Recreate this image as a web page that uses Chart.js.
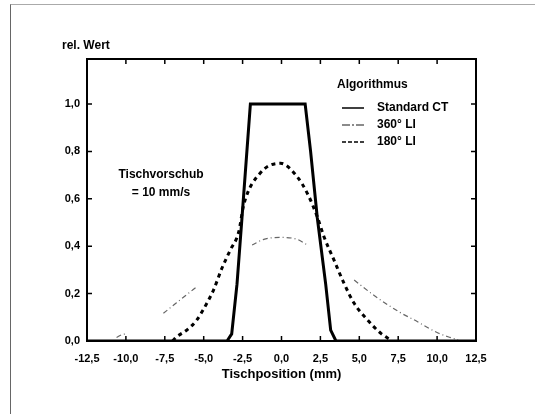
<!DOCTYPE html>
<html>
<head>
<meta charset="utf-8">
<script src="https://cdn.jsdelivr.net/npm/chart.js"></script>
<style>
  html, body { margin: 0; padding: 0; background: #fff; }
  #wrap { position: relative; width: 535px; height: 414px; }
  #frame {
    position: absolute; left: 10px; top: 4px; width: 525px; height: 410px;
    border-left: 1px solid #666; border-top: 1px solid #aaa;
    pointer-events: none;
  }
  canvas { position: absolute; left: 0; top: 0; }
</style>
</head>
<body>
<div id="wrap">
  <canvas id="chart" width="535" height="414"></canvas>
  <div id="frame"></div>
</div>
<script>
// Tick labels / text
const xTicks = [-12.5, -10, -7.5, -5, -2.5, 0, 2.5, 5, 7.5, 10, 12.5];
const yTicks = [0, 0.2, 0.4, 0.6, 0.8, 1.0];
const seriesNames = ['Standard CT', '360° LI', '180° LI'];

// Standard CT (solid)
const stdX = [-12.5, -3.5, -3.2, -2.86, -2.54, -2.0, 1.52, 1.87, 2.3, 2.84, 3.16, 3.5, 12.5];
const stdY = [0, 0, 0.03, 0.24, 0.52, 1.0, 1.0, 0.8, 0.52, 0.24, 0.046, 0, 0];

// 360° LI (thin, partly faded in the scan -> gaps)
const li360X = [-10.6, -10.2, -9.9, -9.0, -7.59, -7.0, -6.2, -5.44, -3.5, -1.89, -1.14, -0.06, 1.01, 1.66, 3.0, 4.67, 6.0, 7.68, 8.5, 9.3, 10.06, 10.7, 11.35];
const li360Y = [0.015, 0.028, 0.03, null, 0.117, 0.148, 0.19, 0.229, null, 0.405, 0.429, 0.437, 0.429, 0.405, null, 0.257, 0.19, 0.118, 0.09, 0.06, 0.034, 0.018, 0.005];

// 180° LI (heavy dashed)
const li180X = [-7.0, -6.73, -6.09, -5.44, -4.8, -4.37, -3.83, -3.29, -2.75, -2.43, -1.35, -0.06, 1.01, 1.66, 2.3, 2.73, 3.37, 4.02, 4.67, 5.53, 6.39, 7.03];
const li180Y = [0, 0.018, 0.046, 0.089, 0.159, 0.215, 0.307, 0.384, 0.46, 0.574, 0.71, 0.75, 0.693, 0.623, 0.524, 0.44, 0.342, 0.243, 0.159, 0.089, 0.032, 0.004];

const FONT = '"Liberation Sans", Arial, sans-serif';

function toPoints(xs, ys) {
  return xs.map((x, i) => ({ x: x, y: ys[i] }));
}

function fmt(v) {
  return v.toFixed(1).replace('.', ',');
}

// box, inward ticks, legend and notes
const decorPlugin = {
  id: 'decor',
  afterDraw(chart) {
    const ctx = chart.ctx;
    const a = chart.chartArea;
    const xs = chart.scales.x;
    const ys = chart.scales.y;
    ctx.save();
    ctx.strokeStyle = '#000';
    ctx.lineWidth = 2;
    ctx.strokeRect(a.left, a.top, a.right - a.left, a.bottom - a.top);

    ctx.lineWidth = 1.5;
    ctx.beginPath();
    xTicks.forEach(v => {
      if (v <= -12.5 || v >= 12.5) return;
      const px = xs.getPixelForValue(v);
      ctx.moveTo(px, a.bottom); ctx.lineTo(px, a.bottom - 5);
      ctx.moveTo(px, a.top); ctx.lineTo(px, a.top + 5);
    });
    yTicks.forEach(v => {
      if (v <= 0) return;
      const py = ys.getPixelForValue(v);
      ctx.moveTo(a.left, py); ctx.lineTo(a.left + 5, py);
      ctx.moveTo(a.right, py); ctx.lineTo(a.right - 5, py);
    });
    ctx.stroke();

    // axis label top-left
    ctx.fillStyle = '#000';
    ctx.font = 'bold 12px ' + FONT;
    ctx.textBaseline = 'middle';
    ctx.textAlign = 'left';
    ctx.fillText('rel. Wert', 62, 46);

    // note
    ctx.textAlign = 'center';
    ctx.fillText('Tischvorschub', 161, 175);
    ctx.fillText('= 10 mm/s', 161, 193);

    // legend
    ctx.textAlign = 'left';
    ctx.fillText('Algorithmus', 337, 85);
    const rows = [108, 125, 142];
    chart.data.datasets.forEach((ds, i) => {
      const y = rows[i];
      ctx.beginPath();
      ctx.strokeStyle = ds.borderColor;
      ctx.lineWidth = 1.5;
      ctx.setLineDash(ds.legendDash);
      ctx.moveTo(342, y);
      ctx.lineTo(364, y);
      ctx.stroke();
      ctx.setLineDash([]);
      ctx.fillStyle = '#000';
      ctx.fillText(ds.label, 377, y);
    });
    ctx.restore();
  }
};

new Chart(document.getElementById('chart'), {
  type: 'line',
  data: {
    datasets: [
      {
        label: seriesNames[0],
        data: toPoints(stdX, stdY),
        borderColor: '#000',
        borderWidth: 3,
        pointRadius: 0,
        tension: 0,
        legendDash: []
      },
      {
        label: seriesNames[1],
        data: toPoints(li360X, li360Y),
        borderColor: '#666',
        borderWidth: 1.2,
        borderDash: [5, 3, 1, 3],
        pointRadius: 0,
        cubicInterpolationMode: 'monotone',
        spanGaps: false,
        legendDash: [8, 2, 2, 2]
      },
      {
        label: seriesNames[2],
        data: toPoints(li180X, li180Y),
        borderColor: '#000',
        borderWidth: 3,
        borderDash: [4, 4],
        pointRadius: 0,
        cubicInterpolationMode: 'monotone',
        legendDash: [4, 2]
      }
    ]
  },
  options: {
    responsive: false,
    animation: false,
    layout: { padding: { left: 57, right: 59, top: 59, bottom: 23 } },
    plugins: {
      legend: { display: false },
      tooltip: { enabled: false }
    },
    scales: {
      x: {
        type: 'linear',
        min: -12.5,
        max: 12.5,
        afterFit: (s) => { s.height = 50; },
        afterBuildTicks: (s) => { s.ticks = xTicks.map(v => ({ value: v })); },
        grid: { display: false, drawTicks: false },
        border: { display: false },
        ticks: {
          padding: 11,
          color: '#000',
          font: { family: FONT, size: 11, weight: 'bold' },
          maxRotation: 0,
          autoSkip: false,
          callback: (v) => fmt(v)
        },
        title: {
          display: true,
          text: 'Tischposition (mm)',
          color: '#000',
          font: { family: FONT, size: 13, weight: 'bold' },
          padding: { top: 0, bottom: 9 }
        }
      },
      y: {
        type: 'linear',
        min: 0,
        max: 1.19,
        afterFit: (s) => { s.width = 30; },
        afterBuildTicks: (s) => { s.ticks = yTicks.map(v => ({ value: v })); },
        grid: { display: false, drawTicks: false },
        border: { display: false },
        ticks: {
          padding: 7,
          color: '#000',
          font: { family: FONT, size: 11, weight: 'bold' },
          callback: (v) => fmt(v)
        }
      }
    }
  },
  plugins: [decorPlugin]
});
</script>
</body>
</html>
